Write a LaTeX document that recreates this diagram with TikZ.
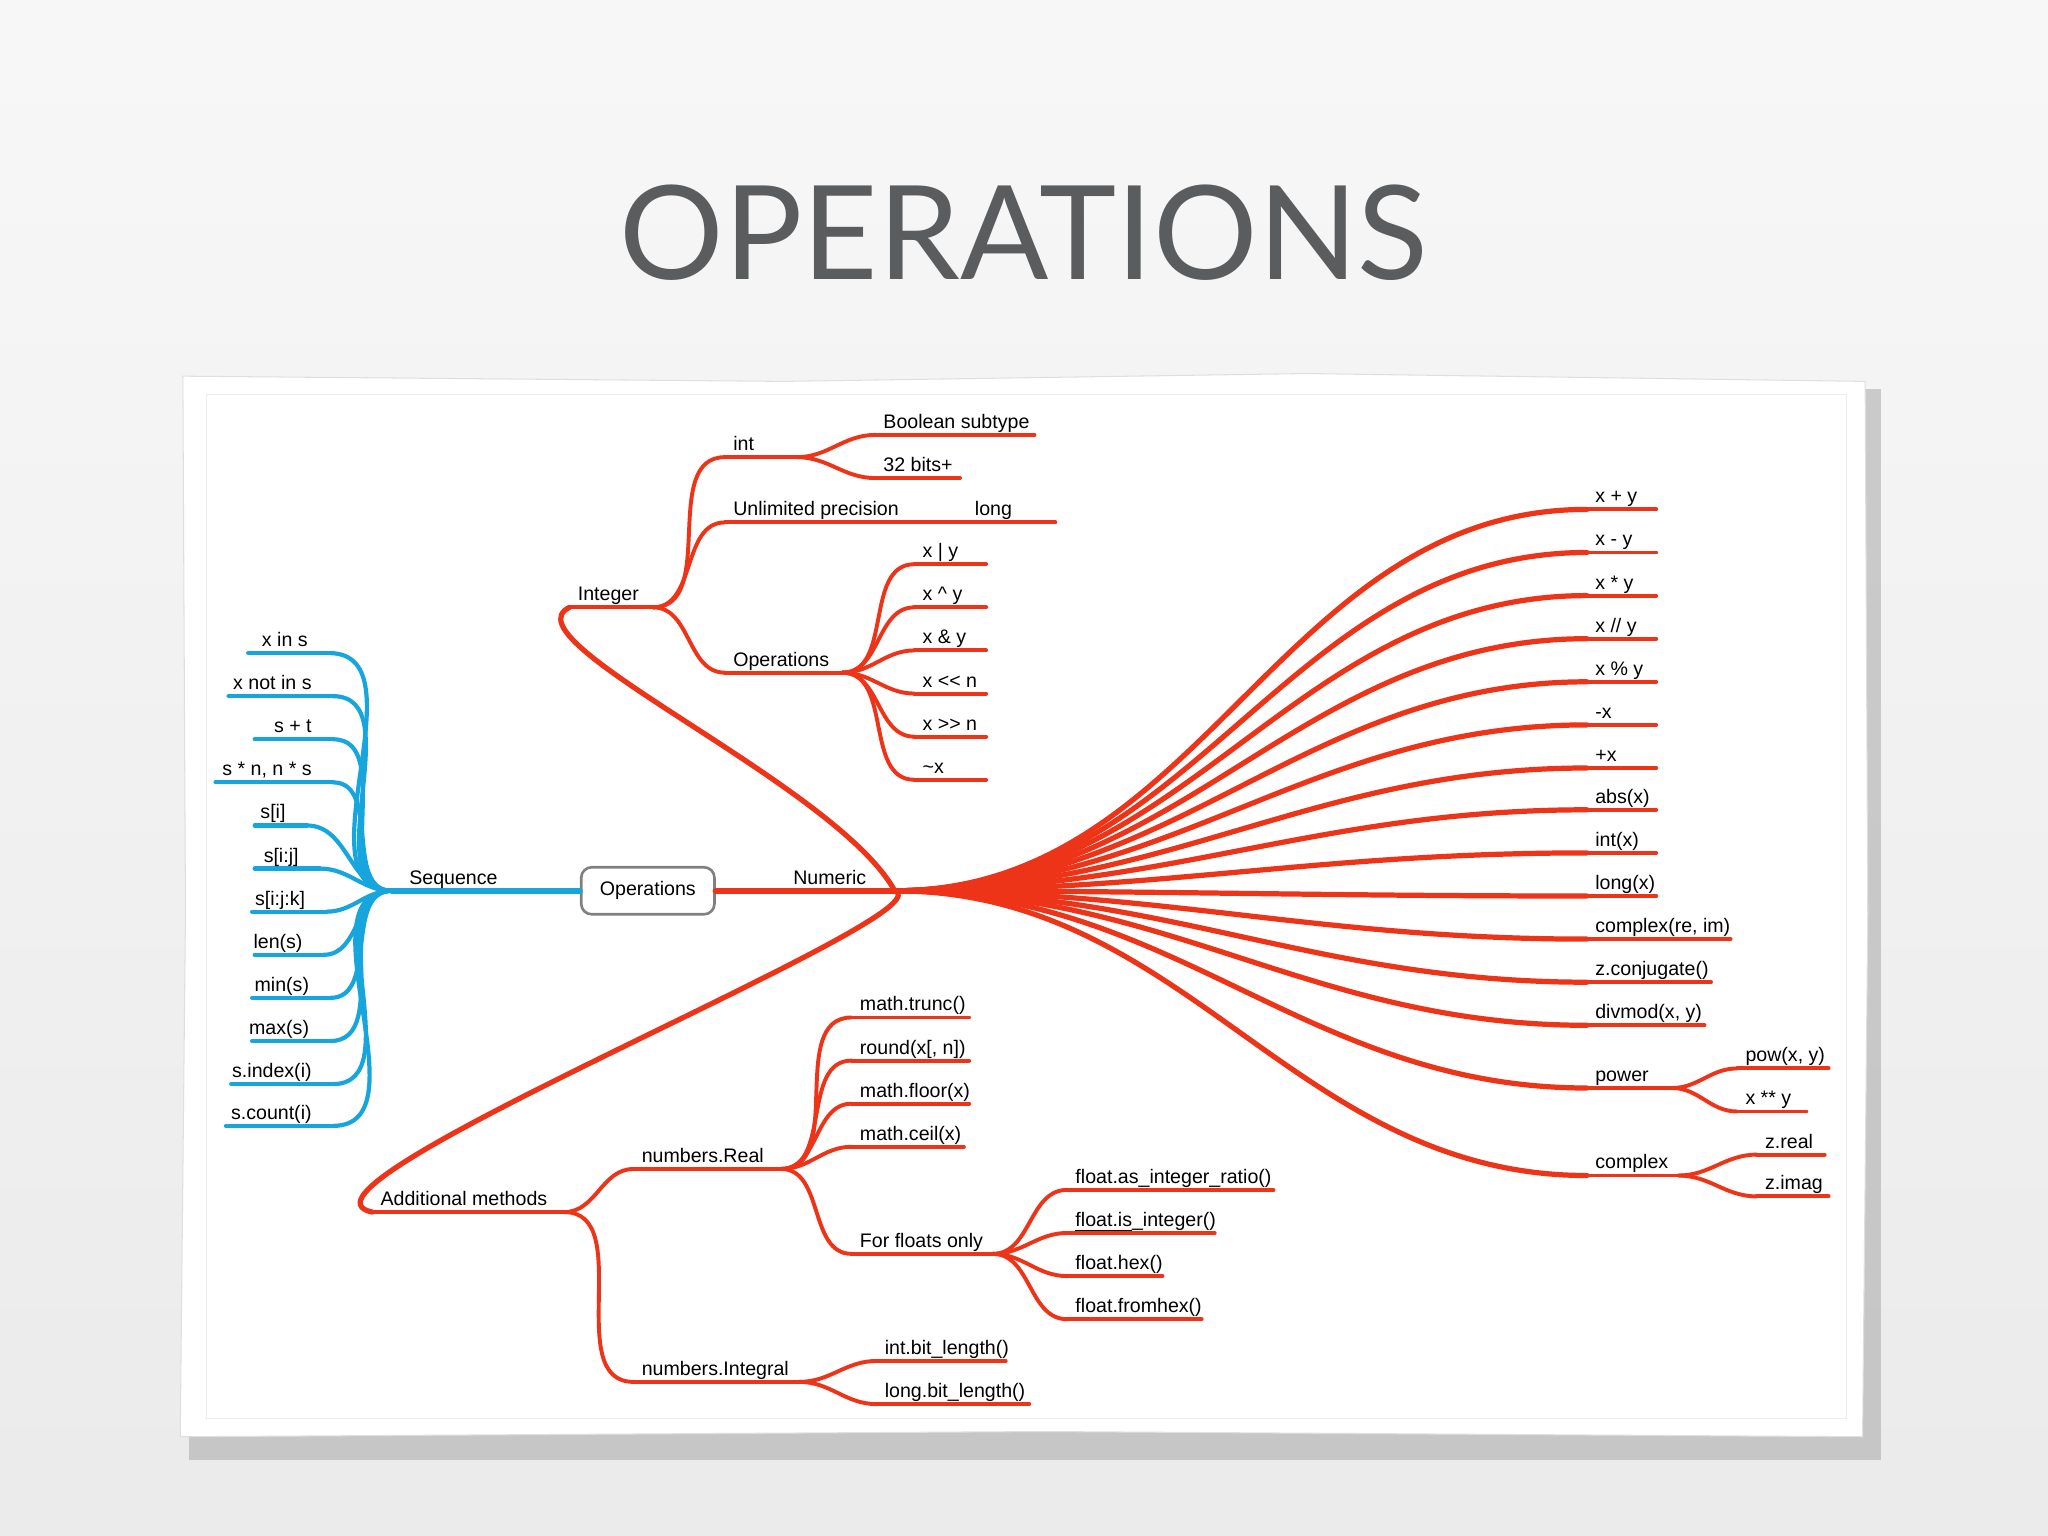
\documentclass[tikz,border=0pt]{standalone}
\usepackage{fontspec}
\setmainfont{Liberation Sans}
\newfontfamily\titlefont{Lato}
\usetikzlibrary{shadows}
\definecolor{rd}{HTML}{EE3418}
\definecolor{bl}{HTML}{16A5DC}
\definecolor{tg}{HTML}{5A5C5E}
\tikzset{lbl/.style={inner sep=0pt,font=\fontsize{7.5}{9}\selectfont},
 rl/.style={rd,line width=1.5pt,line cap=round},
 bll/.style={bl,line width=1.6pt,line cap=round}}
\newcommand\lf[6]{\draw[#6] (#2,#4) coordinate(#1-s) -- (#3,#4) coordinate(#1-e);
 \node[lbl,anchor=base west] (#1) at ({#2+6},{#4-5}) {#5};}
\newcommand\lb[5]{\draw[bll] (#2,#4) coordinate(#1-s) -- (#3,#4) coordinate(#1-e);
 \node[lbl,anchor=base east] (#1) at ({#3-16},{#4-5}) {#5};}
\newcommand\cn[3]{\draw[#1] (#2) to[out=0,in=180] (#3);}
\begin{document}
\begin{tikzpicture}[x=0.5pt,y=-0.5pt]
\shade[top color=white!94!gray,bottom color=white!84!gray] (0,0) rectangle (1568,1176);
\useasboundingbox (0,0) rectangle (1568,1176);
\node[font=\titlefont\fontsize{50}{52}\selectfont,text=tg] (title) at (784,178) {OPERATIONS};
\fill[black!40,opacity=0.45] (145,298) rectangle (1440,1118);
\draw[white!75!gray,fill=white] (140,288) -- (600,292) -- (1000,286) -- (1428,292) -- (1430,700) -- (1426,1100) -- (800,1096) -- (138,1100) -- (142,700) -- cycle;
\draw[white!85!gray,line width=0.4pt] (158,302) rectangle (1414,1086);
% center
\node[draw=gray,line width=1pt,rounded corners=4pt,fill=white,minimum width=51pt,minimum height=18pt,lbl,font=\fontsize{7.5}{9}\selectfont] (ops) at (496,682) {Operations};
% sequence
\draw[bll,line width=2.2pt] (ops.west) -- (300,682) coordinate(seq-s);
\node[lbl,anchor=base west] (seq) at (313,677) {Sequence};
\lb{b1}{190}{252}{500}{x in s}
\lb{b2}{175}{255}{533}{x not in s}
\lb{b3}{195}{255}{566}{s + t}
\lb{b4}{165}{255}{599}{s * n, n * s}
\lb{b5}{195}{235}{632}{s[i]}
\lb{b6}{195}{245}{665}{s[i:j]}
\lb{b7}{193}{250}{698}{s[i:j:k]}
\lb{b8}{195}{248}{731}{len(s)}
\lb{b9}{193}{253}{764}{min(s)}
\lb{b10}{193}{253}{797}{max(s)}
\lb{b11}{177}{255}{830}{s.index(i)}
\lb{b12}{173}{255}{862}{s.count(i)}
\foreach \i in {1,...,12}{\draw[bll] (b\i-e) to[out=0,in=180] (seq-s);}
% numeric
\draw[rl,line width=2.4pt] (ops.east) -- (685,682) coordinate(hub);
\node[lbl,anchor=base west] (num) at (607,677) {Numeric};
\lf{f1}{1215}{1268}{390}{x + y}{rl}
\lf{f2}{1215}{1268}{423}{x - y}{rl}
\lf{f3}{1215}{1268}{456}{x * y}{rl}
\lf{f4}{1215}{1268}{489}{x // y}{rl}
\lf{f5}{1215}{1268}{522}{x \% y}{rl}
\lf{f6}{1215}{1268}{555}{-x}{rl}
\lf{f7}{1215}{1268}{588}{+x}{rl}
\lf{f8}{1215}{1268}{620}{abs(x)}{rl}
\lf{f9}{1215}{1268}{653}{int(x)}{rl}
\lf{f10}{1215}{1268}{686}{long(x)}{rl}
\lf{f11}{1215}{1325}{719}{complex(re, im)}{rl}
\lf{f12}{1215}{1310}{752}{z.conjugate()}{rl}
\lf{f13}{1215}{1305}{785}{divmod(x, y)}{rl}
\lf{f14}{1215}{1280}{833}{power}{rl}
\lf{f15}{1215}{1285}{900}{complex}{rl}
\foreach \i in {1,...,15}{\draw[rl,line width=2pt] (hub) to[out=0,in=180] (f\i-s);}
\lf{pw1}{1330}{1400}{818}{pow(x, y)}{rl}
\lf{pw2}{1330}{1383}{851}{x ** y}{rl}
\lf{cx1}{1345}{1397}{884}{z.real}{rl}
\lf{cx2}{1345}{1400}{916}{z.imag}{rl}
\cn{rl}{f14-e}{pw1-s}\cn{rl}{f14-e}{pw2-s}
\cn{rl}{f15-e}{cx1-s}\cn{rl}{f15-e}{cx2-s}
% integer
\lf{int}{436}{500}{465}{Integer}{rl}
\draw[rl,line width=2pt] (hub) .. controls (640,600) and (385,490) .. (int-s);
\lf{i1}{555}{610}{350}{int}{rl}
\lf{i2}{555}{740}{400}{Unlimited precision}{rl}
\lf{i3}{555}{645}{515}{Operations}{rl}
\cn{rl}{int-e}{i1-s}\cn{rl}{int-e}{i2-s}\cn{rl}{int-e}{i3-s}
\lf{lng}{740}{808}{400}{long}{rl}
\lf{b01}{670}{792}{333}{Boolean subtype}{rl}
\lf{b02}{670}{735}{366}{32 bits+}{rl}
\cn{rl}{i1-e}{b01-s}\cn{rl}{i1-e}{b02-s}
\lf{o1}{700}{755}{432}{x | y}{rl}
\lf{o2}{700}{755}{465}{x \textasciicircum{} y}{rl}
\lf{o3}{700}{755}{498}{x \& y}{rl}
\lf{o4}{700}{755}{531}{x {<}{<} n}{rl}
\lf{o5}{700}{755}{564}{x {>}{>} n}{rl}
\lf{o6}{700}{755}{597}{\textasciitilde x}{rl}
\foreach \i in {1,...,6}{\draw[rl] (i3-e) to[out=0,in=180] (o\i-s);}
% additional
\lf{add}{285}{432}{928}{Additional methods}{rl}
\draw[rl,line width=2pt] (hub) .. controls (730,700) and (200,910) .. (add-s);
\lf{nr}{485}{598}{895}{numbers.Real}{rl}
\lf{ni}{485}{612}{1058}{numbers.Integral}{rl}
\cn{rl}{add-e}{nr-s}\cn{rl}{add-e}{ni-s}
\lf{r1}{652}{742}{779}{math.trunc()}{rl}
\lf{r2}{652}{742}{812}{round(x[, n])}{rl}
\lf{r3}{652}{742}{845}{math.floor(x)}{rl}
\lf{r4}{652}{738}{878}{math.ceil(x)}{rl}
\lf{r5}{652}{760}{960}{For floats only}{rl}
\foreach \i in {1,...,5}{\draw[rl] (nr-e) to[out=0,in=180] (r\i-s);}
\lf{ff1}{817}{975}{911}{float.as\_integer\_ratio()}{rl}
\lf{ff2}{817}{930}{944}{\underline{float.is}\_integer()}{rl}
\lf{ff3}{817}{890}{977}{float.hex()}{rl}
\lf{ff4}{817}{920}{1010}{float.fromhex()}{rl}
\foreach \i in {1,...,4}{\draw[rl] (r5-e) to[out=0,in=180] (ff\i-s);}
\lf{n1}{671}{770}{1042}{int.bit\_length()}{rl}
\lf{n2}{671}{788}{1075}{long.bit\_length()}{rl}
\cn{rl}{ni-e}{n1-s}\cn{rl}{ni-e}{n2-s}
\end{tikzpicture}
\end{document}
